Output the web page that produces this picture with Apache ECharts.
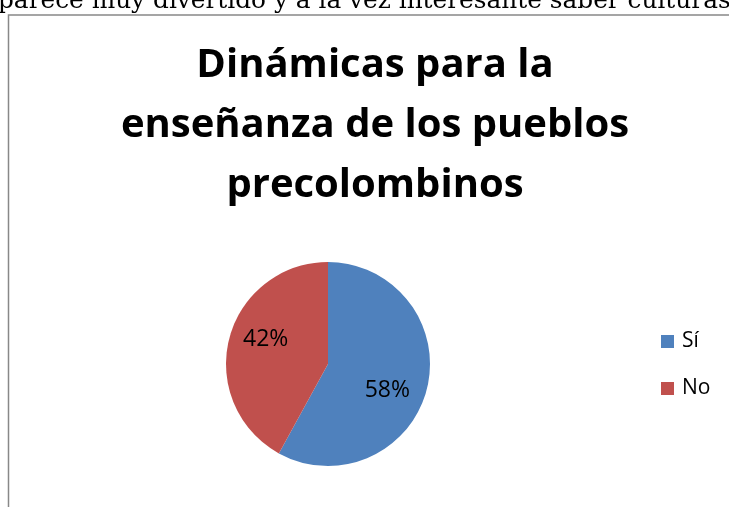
<!DOCTYPE html>
<html>
<head>
<meta charset="utf-8">
<script src="https://cdn.jsdelivr.net/npm/echarts@6/dist/echarts.min.js"></script>
<style>
	html, body { margin: 0; padding: 0; background: #fff; }
	#chart { width: 729px; height: 507px; }
</style>
</head>
<body>
<div id="chart"></div>
<script>
'use strict';
var categories = ['Sí', 'No'];
var values = [58, 42];
var colors = ['#4F81BD', '#C0504D'];
var titleText = 'Dinámicas para la\nenseñanza de los pueblos\nprecolombinos';
var pageText = 'parece muy divertido y a la vez interesante saber culturas';

var pieData = [];
for (var i = 0; i < categories.length; i++) {
	pieData.push({ name: categories[i], value: values[i] });
}
// nudge the labels like Excel's best-fit placement
pieData[0].label = { offset: [7, 13] };
pieData[1].label = { offset: [-10, -11] };

var option = {
	animation: false,
	color: colors,
	title: {
		text: titleText,
		left: 375,
		top: 36,
		padding: 0,
		textAlign: 'center',
		textStyle: {
			fontFamily: 'Open Sans',
			fontWeight: 'bold',
			fontSize: 40,
			lineHeight: 60,
			color: '#000'
		}
	},
	legend: {
		orient: 'vertical',
		left: 661,
		top: 331,
		padding: 0,
		itemWidth: 13,
		itemHeight: 13,
		itemGap: 26,
		icon: 'rect',
		data: categories,
		textStyle: {
			fontFamily: 'Open Sans',
			fontSize: 21,
			color: '#000',
			padding: [2, 0, 0, 3]
		}
	},
	graphic: [
		{
			type: 'text',
			left: -2,
			top: -11,
			style: {
				text: pageText,
				fontFamily: 'DejaVu Serif',
				fontSize: 24.8,
				fill: '#000'
			}
		},
		{
			type: 'rect',
			shape: { x: 8.5, y: 15, width: 800, height: 600 },
			style: { fill: 'none', stroke: '#888', lineWidth: 1.5 }
		}
	],
	series: [
		{
			type: 'pie',
			center: [328, 364],
			radius: 102,
			startAngle: 90,
			clockwise: true,
			data: pieData,
			itemStyle: { borderWidth: 0 },
			label: {
				show: true,
				position: 'inside',
				formatter: '{d}%',
				fontFamily: 'Open Sans',
				fontSize: 23,
				color: '#000'
			},
			labelLine: { show: false },
			emphasis: { disabled: true }
		}
	]
};

var chart = echarts.init(document.getElementById('chart'));
chart.setOption(option);
</script>
</body>
</html>
